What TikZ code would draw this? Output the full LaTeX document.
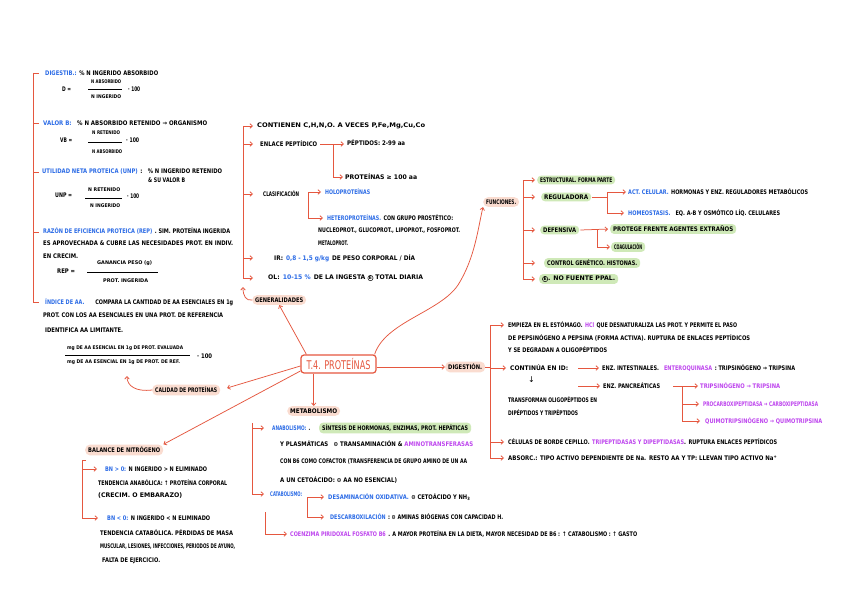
\documentclass[tikz,border=0pt]{standalone}
\usepackage{fontspec}
\setmainfont{DejaVu Sans}
\usetikzlibrary{arrows.meta}
\definecolor{rd}{HTML}{E5573F}
\definecolor{pk}{HTML}{FADCD0}
\definecolor{gr}{HTML}{CFE9B8}
\definecolor{bl}{HTML}{2B6BE6}
\definecolor{mg}{HTML}{BE45EE}
\newcommand\fw[2]{\resizebox{#1pt}{\height}{#2}}
\newcommand\B[1]{\textcolor{bl}{#1}}
\newcommand\M[1]{\textcolor{mg}{#1}}
\newcommand\cE{\tikz[baseline=(e.base)]\node[draw, circle, inner sep=0.3pt, line width=0.5pt, anchor=center, fill=none] (e) {\scalebox{0.72}{E}};}
\tikzset{
 t/.style={inner sep=0pt, anchor=west, font=\fontsize{6.3}{7}\selectfont\bfseries},
 sm/.style={t, font=\fontsize{5}{6}\selectfont\bfseries},
 pinkbox/.style={t, fill=pk, rounded corners=5pt, inner xsep=3pt, inner ysep=2.5pt},
 greenbox/.style={t, fill=gr, rounded corners=4pt, inner xsep=3pt, inner ysep=2pt},
 ln/.style={draw=rd, line width=0.75pt},
 ar/.style={ln, -{Straight Barb[length=2.5pt,width=4.5pt]}},
 bar/.style={draw=black, line width=0.5pt},
}
\begin{document}
\begin{tikzpicture}[x=1pt,y=-1pt]
\useasboundingbox (0,0) rectangle (848,599);
\fill[white] (0,0) rectangle (848,599);

% ---------- centre ----------
\node[draw=rd, line width=1.2pt, rounded corners=3pt, fill=white, minimum width=75pt, minimum height=18pt, inner sep=0pt, text=rd, font=\fontsize{12}{14}\selectfont] (ctr) at (338.5,364) {\fw{64}{T.4. PROTEÍNAS}};

% ---------- pink titles ----------
\node[pinkbox] (gen) at (252,300) {\fw{48}{GENERALIDADES}};
\node[pinkbox] (cal) at (152,390) {\fw{62}{CALIDAD DE PROTEÍNAS}};
\node[pinkbox] (fn) at (483,202) {\fw{30}{FUNCIONES.}};
\node[pinkbox] (dg) at (445,367) {\fw{34}{DIGESTIÓN.}};
\node[pinkbox] (mt) at (287,411) {\fw{47}{METABOLISMO}};
\node[pinkbox] (bn) at (85,450) {\fw{72}{BALANCE DE NITRÓGENO}};

% centre connectors
\draw[ar] ([xshift=6pt]ctr.north west) -- (gen.south);
\draw[ar, shorten >=7pt] ([yshift=-2pt]ctr.west) -- (cal.east);
\draw[ar] ([yshift=-7pt]ctr.west) -- (bn.north east);
\draw[ar] (mt.north |- ctr.south) -- (mt.north);
\draw[ar] (ctr.east |- dg.west) -- (dg.west);
\draw[ar] ([xshift=-2pt]ctr.north east) .. controls (385,322) and (440,312) .. (458,285) .. controls (475,258) and (478,228) .. (fn.south west);
\coordinate (genend) at (243,287);
\draw[ar] (gen.west) .. controls (246,301) and (243,296) .. (genend);
\coordinate (calend) at (127,376);
\draw[ar] (cal.west) .. controls (136,392) and (127,386) .. (calend);

% ---------- CALIDAD (left column) ----------
\draw[ln] (33,73) -- (33,302);
\foreach \yy in {73,123,172,232,302} \draw[ln] (33,\yy) -- (39,\yy);
\node[t] (c1) at (45,73) {\fw{113}{\B{DIGESTIB.:}\enspace \% N INGERIDO ABSORBIDO}};
\node[t] (c1e) at (62,89) {\fw{9}{D =}};
\node[sm] (c1n) at (91,82) {\fw{30}{N ABSORBIDO}};
\draw[bar] (88,89) -- (122,89);
\node[sm] (c1d) at (91,97) {\fw{30}{N INGERIDO}};
\node[t] (c1x) at (128,89) {\fw{12}{· 100}};

\node[t] (c2) at (43,123) {\fw{164}{\B{VALOR B:}\quad \% N ABSORBIDO RETENIDO → ORGANISMO}};
\node[t] (c2e) at (60,140) {\fw{12}{VB =}};
\node[sm] (c2n) at (92,133) {\fw{28}{N RETENIDO}};
\draw[bar] (88,142) -- (122,142);
\node[sm] (c2d) at (92,152) {\fw{30}{N ABSORBIDO}};
\node[t] (c2x) at (126,140) {\fw{13}{· 100}};

\node[t] (c3) at (42,172) {\fw{180}{\B{UTILIDAD NETA PROTEICA (UNP)}\enspace:\quad \% N INGERIDO RETENIDO}};
\node[t] (c3b) at (148,180) {\fw{37}{\& SU VALOR B}};
\node[t] (c3e) at (55,195) {\fw{17}{UNP =}};
\node[sm] (c3n) at (88,190) {\fw{32}{N RETENIDO}};
\draw[bar] (85,198) -- (122,198);
\node[sm] (c3d) at (90,206) {\fw{30}{N INGERIDO}};
\node[t] (c3x) at (127,196) {\fw{12}{· 100}};

\node[t] (c4) at (43,231) {\fw{187}{\B{RAZÓN DE EFICIENCIA PROTEICA (REP)}\enspace . SIM. PROTEÍNA INGERIDA}};
\node[t] (c4b) at (43,243) {\fw{190}{ES APROVECHADA \& CUBRE LAS NECESIDADES PROT. EN INDIV.}};
\node[t] (c4c) at (43,256) {\fw{35}{EN CRECIM.}};
\node[t] (c4e) at (57,271) {\fw{18}{REP =}};
\node[sm] (c4n) at (97,263) {\fw{55}{GANANCIA PESO (g)}};
\draw[bar] (87,272) -- (158,272);
\node[sm] (c4d) at (103,281) {\fw{45}{PROT. INGERIDA}};

\node[t] (c5) at (45,302) {\fw{188}{\B{ÍNDICE DE AA.}\hspace{2.2em}COMPARA LA CANTIDAD DE AA ESENCIALES EN 1g}};
\node[t] (c5b) at (43,315) {\fw{180}{PROT. CON LOS AA ESENCIALES EN UNA PROT. DE REFERENCIA}};
\node[t] (c5c) at (45,330) {\fw{78}{IDENTIFICA AA LIMITANTE.}};
\node[sm] (c5n) at (67,348) {\fw{116}{mg DE AA ESENCIAL EN 1g DE PROT. EVALUADA}};
\draw[bar] (65,355) -- (190,355);
\node[sm] (c5d) at (67,362) {\fw{113}{mg DE AA ESENCIAL EN 1g DE PROT. DE REF.}};
\node[t] (c5x) at (197,356) {\fw{15}{· 100}};

% ---------- GENERALIDADES ----------
\coordinate (gx) at (243,0);
\node[t] (g1) at (257,126) {\fw{168}{CONTIENEN C,H,N,O. A VECES P,Fe,Mg,Cu,Co}};
\node[t] (g2) at (260,144) {\fw{57}{ENLACE PEPTÍDICO}};
\node[t] (g3) at (263,194) {\fw{36}{CLASIFICACIÓN}};
\node[t] (g4) at (274,258) {\fw{141}{IR:\enspace \B{0,8 - 1,5 g/kg}\enspace DE PESO CORPORAL / DÍA}};
\node[t] (g5) at (268,278) {\fw{155}{OL:\enspace \B{10-15 \%}\enspace DE LA INGESTA \cE{} TOTAL DIARIA}};
\draw[ln] (g1.west -| gx) -- (g5.west -| gx);
\foreach \n in {g1,g2,g3,g4,g5} \draw[ar] (\n.west -| gx) -- ++(10,0);

\node[t] (g2a) at (347,143) {\fw{58}{PÉPTIDOS: 2-99 aa}};
\node[t] (g2b) at (345,177) {\fw{72}{PROTEÍNAS ≥ 100 aa}};
\coordinate (ex) at (333,0);
\draw[ar] ([xshift=3pt]g2.east) -- ([xshift=-3pt]g2a.west |- g2.east);
\draw[ln] (g2.east -| ex) -- (g2b.west -| ex);
\draw[ar, shorten >=2pt] (g2b.west -| ex) -- (g2b.west);

\node[t] (g3a) at (325,192) {\fw{45}{\B{HOLOPROTEÍNAS}}};
\node[t] (g3b) at (327,218) {\fw{126}{\B{HETEROPROTEÍNAS.}\enspace CON GRUPO PROSTÉTICO:}};
\node[t] (g3c) at (318,231) {\fw{142}{NUCLEOPROT., GLUCOPROT., LIPOPROT., FOSFOPROT.}};
\node[t] (g3d) at (318,243) {\fw{30}{METALOPROT.}};
\coordinate (hx) at (308,0);
\draw[ln] (g3a.west -| hx) -- (g3b.west -| hx);
\draw[ar, shorten >=4pt] (g3a.west -| hx) -- (g3a.west);
\draw[ar, shorten >=4pt] (g3b.west -| hx) -- (g3b.west);

% ---------- FUNCIONES ----------
\node[greenbox] (f1) at (537,180) {\fw{72}{ESTRUCTURAL. FORMA PARTE}};
\node[greenbox] (f2) at (541,197) {\fw{44}{REGULADORA}};
\node[greenbox] (f3) at (540,230) {\fw{33}{DEFENSIVA}};
\node[greenbox] (f4) at (544,263) {\fw{90}{CONTROL GENÉTICO. HISTONAS.}};
\node[greenbox] (f5) at (539,279) {\fw{73}{\cE. NO FUENTE PPAL.}};
\coordinate (fx) at (523,0);
\draw[ln] (f1.west -| fx) -- (f5.west -| fx);
\foreach \n in {f1,f2,f3,f4,f5} \draw[ar] (\n.west -| fx) -- ++(12,0);

\node[t] (f2a) at (628,192) {\fw{180}{\B{ACT. CELULAR.}\enspace HORMONAS Y ENZ. REGULADORES METABÓLICOS}};
\node[t] (f2b) at (628,213) {\fw{152}{\B{HOMEOSTASIS.}\quad EQ. A-B Y OSMÓTICO LÍQ. CELULARES}};
\coordinate (rx) at (607,0);
\draw[ln] ([xshift=1pt]f2.east) -- (f2.east -| rx);
\draw[ln] (f2a.west -| rx) -- (f2b.west -| rx);
\draw[ar, shorten >=2pt] (f2a.west -| rx) -- (f2a.west);
\draw[ar, shorten >=4pt] (f2b.west -| rx) -- (f2b.west);

\node[greenbox] (f3a) at (610,229) {\fw{120}{PROTEGE FRENTE AGENTES EXTRAÑOS}};
\node[greenbox] (f3b) at (611,247) {\fw{28}{COAGULACIÓN}};
\coordinate (dx) at (597,0);
\draw[ar, shorten >=2pt] ([xshift=1pt]f3.east) -- (f3a.west);
\draw[ln] (f3.east -| dx) -- (f3b.west -| dx);
\draw[ar, shorten >=1pt] (f3b.west -| dx) -- (f3b.west);

% ---------- DIGESTION ----------
\node[t] (d1) at (508,325) {\fw{229}{EMPIEZA EN EL ESTÓMAGO.\enspace\M{HCl}\enspace QUE DESNATURALIZA LAS PROT. Y PERMITE EL PASO}};
\node[t] (d1b) at (508,338) {\fw{242}{DE PEPSINÓGENO A PEPSINA (FORMA ACTIVA). RUPTURA DE ENLACES PEPTÍDICOS}};
\node[t] (d1c) at (508,350) {\fw{99}{Y SE DEGRADAN A OLIGOPÉPTIDOS}};
\node[t] (d2) at (510,368) {\fw{58}{CONTINÚA EN ID:}};
\node[t] (d3) at (508,442) {\fw{269}{CÉLULAS DE BORDE CEPILLO.\enspace\M{TRIPEPTIDASAS Y DIPEPTIDASAS}.\enspace RUPTURA ENLACES PEPTÍDICOS}};
\node[t] (d4) at (508,458) {\fw{269}{ABSORC.: TIPO ACTIVO DEPENDIENTE DE Na.\enspace RESTO AA Y TP: LLEVAN TIPO ACTIVO Na\textsuperscript{+}}};
\coordinate (qx) at (490,0);
\draw[ln] (dg.east) -- (dg.east -| qx);
\draw[ln] (d1.west -| qx) -- (d4.west -| qx);
\foreach \n in {d1,d2,d3,d4} \draw[ar, shorten >=4pt] (\n.west -| qx) -- (\n.west);

\node[t] (d2a) at (602,368) {\fw{193}{ENZ. INTESTINALES.\quad\M{ENTEROQUINASA}\enspace: TRIPSINÓGENO → TRIPSINA}};
\node[t] (d2b) at (603,386) {\fw{57}{ENZ. PANCREÁTICAS}};
\coordinate (s1) at (578,368);
\coordinate (s2) at (578,386);
\draw[ar, shorten >=3pt] (s1) -- (d2a.west);
\draw[ar, shorten >=3pt] (s2) -- (d2b.west);
\node[t, font=\fontsize{8}{9}\selectfont] (da) at (528,380) {↓};
\node[t] (d2d) at (508,400) {\fw{89}{TRANSFORMAN OLIGOPÉPTIDOS EN}};
\node[t] (d2e) at (508,413) {\fw{70}{DIPÉPTIDOS Y TRIPÉPTIDOS}};

\node[t] (p1) at (700,386) {\fw{80}{\M{TRIPSINÓGENO → TRIPSINA}}};
\node[t] (p2) at (703,404) {\fw{115}{\M{PROCARBOXIPEPTIDASA → CARBOXIPEPTIDASA}}};
\node[t] (p3) at (705,421) {\fw{117}{\M{QUIMOTRIPSINÓGENO → QUIMOTRIPSINA}}};
\coordinate (px) at (682,0);
\draw[ar, shorten >=2pt] ([xshift=13pt]d2b.east) -- (p1.west);
\draw[ln] (p1.west -| px) -- (p3.west -| px);
\draw[ar, shorten >=4pt] (p2.west -| px) -- (p2.west);
\draw[ar, shorten >=5pt] (p3.west -| px) -- (p3.west);

% ---------- METABOLISMO ----------
\node[t] (m1) at (272,428) {\fw{38}{\B{ANABOLISMO:}\enspace.}};
\node[greenbox] (m1g) at (319,428) {\fw{146}{SÍNTESIS DE HORMONAS, ENZIMAS, PROT. HEPÁTICAS}};
\node[t] (m1b) at (280,444) {\fw{193}{Y PLASMÁTICAS\quad ⊖ TRANSAMINACIÓN \& \M{AMINOTRANSFERASAS}}};
\node[t] (m1c) at (280,462) {\fw{187}{CON B6 COMO COFACTOR (TRANSFERENCIA DE GRUPO AMINO DE UN AA}};
\node[t] (m1d) at (280,480) {\fw{117}{A UN CETOÁCIDO: ⊖ AA NO ESENCIAL)}};
\node[t] (m2) at (270,494) {\fw{32}{\B{CATABOLISMO:}}};
\coordinate (mx) at (252,0);
\draw[ln] (252,423) -- (m2.west -| mx);
\draw[ar, shorten >=8pt] (m1.west -| mx) -- (m1.west);
\draw[ar, shorten >=6pt] (m2.west -| mx) -- (m2.west);

\node[t] (m2a) at (328,497) {\fw{142}{\B{DESAMINACIÓN OXIDATIVA.}\enspace ⊖ CETOÁCIDO Y NH\textsubscript{3}}};
\node[t] (m2b) at (330,517) {\fw{173}{\B{DESCARBOXILACIÓN}\enspace: ⊖ AMINAS BIÓGENAS CON CAPACIDAD H.}};
\coordinate (kx) at (307,0);
\draw[ln] (m2a.west -| kx) -- (m2b.west -| kx);
\draw[ar, shorten >=4pt] (m2a.west -| kx) -- (m2a.west);
\draw[ar, shorten >=6pt] (m2b.west -| kx) -- (m2b.west);

\node[t] (m3) at (290,534) {\fw{347}{\M{COENZIMA PIRIDOXAL FOSFATO B6}\enspace. A MAYOR PROTEÍNA EN LA DIETA, MAYOR NECESIDAD DE B6 : ↑ CATABOLISMO : ↑ GASTO}};
\coordinate (m3a) at (265,512);
\draw[ar, shorten >=3pt] (m3a) |- (m3.west);

% ---------- BALANCE ----------
\node[t] (b1) at (105,469) {\fw{102}{\B{BN > 0:}\enspace N INGERIDO > N ELIMINADO}};
\node[t] (b2) at (98,483) {\fw{129}{TENDENCIA ANABÓLICA: ↑ PROTEÍNA CORPORAL}};
\node[t] (b3) at (98,496) {\fw{84}{(CRECIM. O EMBARAZO)}};
\node[t] (b4) at (107,518) {\fw{103}{\B{BN < 0:}\enspace N INGERIDO < N ELIMINADO}};
\node[t] (b5) at (100,533) {\fw{133}{TENDENCIA CATABÓLICA. PÉRDIDAS DE MASA}};
\node[t] (b6) at (100,547) {\fw{135}{MUSCULAR, LESIONES, INFECCIONES, PERIODOS DE AYUNO,}};
\node[t] (b7) at (102,561) {\fw{58}{FALTA DE EJERCICIO.}};
\coordinate (bx) at (82,0);
\draw[ln] (86,460) -- (82,460) -- (b4.west -| bx);
\draw[ar, shorten >=8pt] (b1.west -| bx) -- (b1.west);
\draw[ar, shorten >=9pt] (b4.west -| bx) -- (b4.west);
\end{tikzpicture}
\end{document}
